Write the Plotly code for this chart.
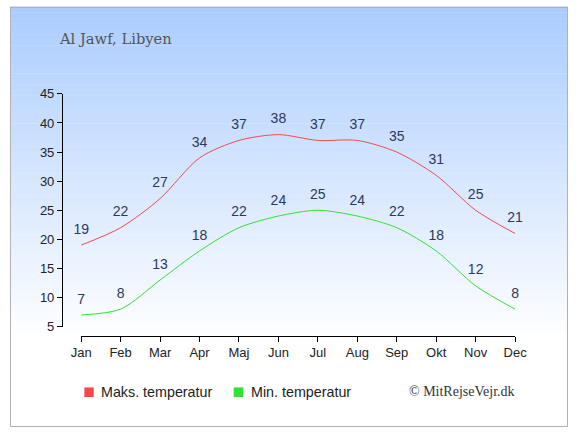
import plotly.graph_objects as go

months = ["Jan", "Feb", "Mar", "Apr", "Maj", "Jun", "Jul", "Aug", "Sep", "Okt", "Nov", "Dec"]
max_temp = [19, 22, 27, 34, 37, 38, 37, 37, 35, 31, 25, 21]
min_temp = [7, 8, 13, 18, 22, 24, 25, 24, 22, 18, 12, 8]
y_ticks = [5, 10, 15, 20, 25, 30, 35, 40, 45]
series_names = ["Maks. temperatur", "Min. temperatur"]

W, H = 580, 435
red = "#f24a4a"
green = "#33e033"
label_col = "#2a3a5c"


def px(x):
    return x / W


def py(y):
    return 1 - y / H


fig = go.Figure()

for vals, col, name in [(max_temp, red, series_names[0]), (min_temp, green, series_names[1])]:
    # invisible markers push the value labels a bit higher above the line
    fig.add_trace(go.Scatter(x=months, y=vals, mode="lines+markers+text", name=name,
                             text=[str(v) for v in vals], textposition="top center",
                             textfont=dict(size=14, color=label_col),
                             marker=dict(size=11, color="rgba(0,0,0,0)"),
                             line=dict(color=col, width=1, shape="spline", smoothing=0.8),
                             showlegend=False, hoverinfo="skip", cliponaxis=False))

# background gradient, light blue at the top fading to white
n = 60
top = (170, 204, 255)
fade_end = 345
for i in range(n):
    y0 = fade_end * i / n
    y1 = fade_end * (i + 1) / n
    t = (i + 0.5) / n
    c = tuple(round(top[k] + (255 - top[k]) * t) for k in range(3))
    fig.add_shape(type="rect", xref="paper", yref="paper", x0=0, x1=1,
                  y0=py(y1), y1=py(y0) + 0.001,
                  fillcolor="rgb(%d,%d,%d)" % c, line=dict(width=0), layer="below")
# outer border
fig.add_shape(type="rect", xref="paper", yref="paper", x0=px(0.5), x1=px(W - 0.5),
              y0=py(H - 0.5), y1=py(0.5), line=dict(color="#b0b0b0", width=1))

# legend drawn by hand
for (x0, x1, tx), col, name in [((77.3, 87, 93), red, series_names[0]),
                                ((232.5, 242.5, 248), green, series_names[1])]:
    fig.add_shape(type="rect", xref="paper", yref="paper", x0=px(x0), x1=px(x1),
                  y0=py(404), y1=py(394), fillcolor=col, line=dict(width=0))
    fig.add_annotation(text=name, xref="paper", yref="paper", x=px(tx), y=py(398.5),
                       xanchor="left", yanchor="middle", showarrow=False,
                       font=dict(family="Liberation Sans, Arial", size=14.3, color="#222222"))

fig.add_annotation(text="Al Jawf, Libyen", xref="paper", yref="paper", x=px(49), y=py(33),
                   xanchor="left", yanchor="middle", showarrow=False,
                   font=dict(family="DejaVu Serif", size=14.7, color="#555555"))
fig.add_annotation(text="© MitRejseVejr.dk", xref="paper", yref="paper", x=px(527.5), y=py(398),
                   xanchor="right", yanchor="middle", showarrow=False,
                   font=dict(family="Liberation Serif", size=14, color="#333333"))

fig.update_layout(
    width=W, height=H,
    margin=dict(l=0, r=0, t=0, b=0),
    paper_bgcolor="white", plot_bgcolor="rgba(0,0,0,0)",
    font=dict(family="Liberation Sans, Arial", size=13, color="#222222"),
    showlegend=False,
    xaxis=dict(domain=[px(74), px(525)], range=[0, 11], anchor="free", position=py(340.5),
               showgrid=False, zeroline=False, showline=True, linecolor="black", linewidth=1,
               ticks="outside", ticklen=5, tickcolor="black", tickfont=dict(size=13, color="#222222")),
    yaxis=dict(domain=[py(331), py(90)], range=[5, 45], anchor="free", position=px(54),
               tickvals=y_ticks, showgrid=False, zeroline=False, showline=True, linecolor="black",
               linewidth=1, ticks="outside", ticklen=5, tickcolor="black",
               tickfont=dict(size=13, color="#222222")),
)

fig.write_html("out.html", config={"displayModeBar": False},
               post_script="document.body.style.margin='0';document.body.style.overflow='hidden';")
